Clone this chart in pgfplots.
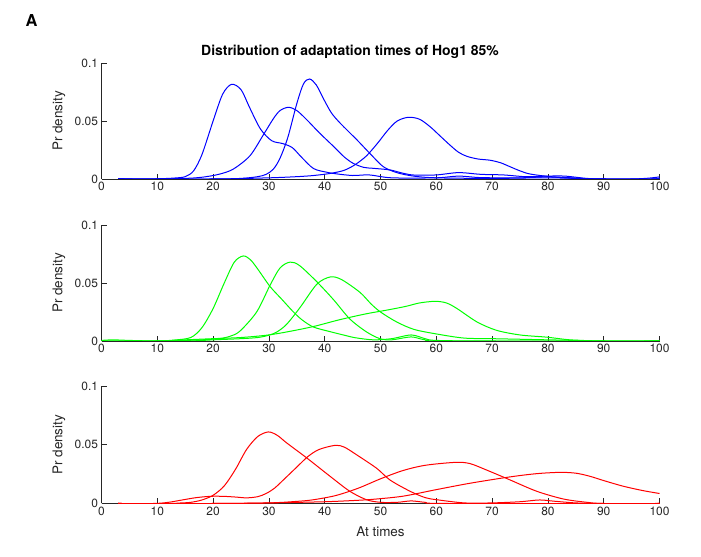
\documentclass[border=0pt]{standalone}
\usepackage{pgfplots}
\pgfplotsset{compat=1.18}
\usepackage{fontspec}
\setmainfont{TeX Gyre Heros}
\definecolor{axgray}{gray}{0.15}
\pgfplotsset{
  myax/.style={
    scale only axis, width=558bp, height=116bp,
    xmin=0, xmax=100, ymin=0, ymax=0.1,
    axis lines=left, axis line style={-, color=axgray, line width=0.6bp},
    tick align=inside, major tick length=5bp,
    tick style={color=axgray, line width=0.6bp},
    xtick={0,10,...,100},
    ytick={0,0.05,0.1}, yticklabels={0,0.05,0.1},
    /pgf/number format/assume math mode=true,
    ticklabel style={font=\fontsize{12}{14}\selectfont, text=axgray},
    ylabel={Pr density},
    ylabel style={at={(axis description cs:-0.0762,0.5)}, anchor=center, font=\fontsize{13.5}{15}\selectfont, text=axgray},
    every axis plot/.append style={line width=1bp, smooth, tension=0.5},
  }
}
\begin{document}
\begin{tikzpicture}[x=1bp,y=1bp]
\path[use as bounding box] (0,0) rectangle (701,557);
% ---------- top (blue)
\begin{axis}[myax, at={(101.5bp,378bp)}, anchor=south west]
\addplot[blue] coordinates {(3,0)(10,0.0002)(13,0.0008)(15,0.002)(16.5,0.007)(18,0.021)(20,0.050)(21.7,0.073)(23.3,0.0816)(25,0.077)(26.6,0.061)(28.5,0.043)(30.5,0.033)(32.5,0.0305)(34.2,0.027)(35.8,0.019)(38,0.009)(40.4,0.0058)(42,0.0045)(45,0.003)(48,0.0035)(52,0.001)(60,0.001)(64,0.0025)(68,0.0012)(75,0.001)(80,0.0018)(85,0.0005)(90,0)(100,0)};
\addplot[blue] coordinates {(3,0)(10,0)(15,0.0005)(18,0.0015)(21,0.004)(23.6,0.0085)(26.6,0.020)(29,0.038)(30.8,0.052)(32,0.059)(33.5,0.0618)(35,0.059)(36.8,0.051)(39,0.040)(41.6,0.028)(43.5,0.019)(45.1,0.0135)(47,0.010)(48.7,0.0092)(51.7,0.0078)(54,0.005)(56,0.0034)(60,0.0035)(64,0.0055)(68,0.004)(72,0.0035)(76,0.002)(80,0.0025)(83,0.0025)(87,0.0005)(90,0)(100,0)};
\addplot[blue] coordinates {(3,0)(20,0)(25,0.0005)(28,0.002)(29.5,0.004)(30.8,0.0085)(32,0.018)(33.4,0.036)(35,0.065)(36.2,0.082)(37.3,0.0862)(38.5,0.081)(39.8,0.069)(41.2,0.057)(42.8,0.048)(45.8,0.0336)(47.5,0.025)(48.5,0.020)(50.5,0.0106)(52.9,0.0055)(55.9,0.0025)(60,0.001)(70,0.0005)(80,0.001)(90,0)(100,0)};
\addplot[blue] coordinates {(3,0)(20,0)(30,0.001)(35,0.002)(38,0.003)(41,0.0048)(43.5,0.0075)(45.5,0.0125)(47.5,0.020)(49.5,0.031)(51.3,0.042)(53,0.050)(55,0.0532)(57,0.0515)(58.9,0.045)(60.7,0.037)(62.5,0.029)(64,0.023)(65.5,0.0195)(67.5,0.0172)(69.6,0.0162)(71.5,0.0140)(73.2,0.0106)(75,0.007)(76.8,0.0043)(80.5,0.002)(85,0.0008)(88,0)(95,0)(98,0.0007)(100,0.0018)};
\end{axis}
% ---------- middle (green)
\begin{axis}[myax, at={(101.5bp,216bp)}, anchor=south west]
\addplot[green] coordinates {(0,0.0005)(2,0.001)(5,0.0005)(10,0)(13,0.0008)(16,0.003)(18,0.0115)(20,0.028)(22,0.050)(23.8,0.068)(25.4,0.0733)(26.7,0.070)(28,0.062)(30.2,0.047)(32.3,0.036)(34.4,0.025)(36,0.018)(38,0.012)(41,0.0080)(43.5,0.005)(45.5,0.0028)(48.7,0.001)(52,0.002)(55.5,0.0052)(58,0.002)(60,0.0005)(70,0)(100,0)};
\addplot[green] coordinates {(0,0)(10,0)(15,0.0005)(18,0.001)(21,0.002)(23,0.004)(24.8,0.0085)(27.8,0.025)(30.2,0.048)(32,0.063)(33.8,0.068)(35.5,0.065)(38.6,0.051)(41.6,0.0355)(44.5,0.019)(47.5,0.0078)(49.9,0.002)(52,0.001)(55.5,0.0035)(58,0.001)(62,0)(100,0)};
\addplot[green] coordinates {(0,0)(15,0)(20,0.001)(25,0.002)(28,0.003)(30,0.005)(31.5,0.008)(33.2,0.0145)(35.6,0.029)(38.6,0.049)(41,0.0552)(43,0.053)(46.3,0.042)(48.3,0.032)(50,0.025)(52.9,0.0164)(56,0.010)(60.1,0.0060)(65,0.0025)(70,0.002)(75,0.0015)(80,0.001)(85,0.0005)(90,0)(100,0)};
\addplot[green] coordinates {(0,0)(10,0)(15,0.001)(20,0.002)(25,0.003)(29.6,0.005)(33.2,0.0078)(38,0.0125)(42.8,0.0185)(47.5,0.0235)(51,0.0265)(54.5,0.0298)(57,0.0328)(59.8,0.0342)(61.8,0.0328)(63.7,0.028)(67.3,0.0164)(70.8,0.0092)(75,0.0052)(79.8,0.0033)(84,0.001)(90,0)(100,0)};
\end{axis}
% ---------- bottom (red)
\begin{axis}[myax, at={(101.5bp,53.5bp)}, anchor=south west,
  height=117.5bp,
  xlabel={At times},
  xlabel style={at={(axis description cs:0.5,-0.243)}, anchor=center, font=\fontsize{13.5}{15}\selectfont, text=axgray}]
\addplot[red] coordinates {(3,0)(12,0)(14,0.0004)(16,0.001)(18,0.003)(20,0.007)(22,0.015)(24,0.029)(26,0.046)(28,0.057)(29.9,0.0609)(31.5,0.058)(33.2,0.0515)(36.8,0.0387)(41,0.023)(44.5,0.0104)(47.5,0.0032)(50,0.001)(53,0.001)(55.5,0.0022)(58,0.001)(62,0)(100,0)};
\addplot[red] coordinates {(3,0)(9.3,0)(12,0.001)(14.7,0.0032)(17,0.005)(19.5,0.0061)(21.8,0.0061)(24,0.0055)(26,0.0048)(28,0.0058)(29.5,0.0085)(31,0.013)(32.8,0.021)(35,0.031)(37,0.040)(39,0.046)(41.9,0.0495)(43.5,0.048)(45.7,0.0415)(49.3,0.030)(51.7,0.020)(55.3,0.0104)(58,0.005)(60.1,0.0032)(65,0.0005)(70,0.0005)(75,0.0015)(78.5,0.003)(81,0.002)(85,0.0005)(90,0)(100,0)};
\addplot[red] coordinates {(3,0)(20,0)(30,0.0005)(35,0.0018)(38,0.0032)(42,0.0068)(46,0.013)(50,0.021)(54,0.028)(58,0.0325)(63.4,0.035)(66,0.034)(69,0.0285)(73,0.0205)(78,0.0104)(82.8,0.0038)(87,0.001)(90,0)(100,0)};
\addplot[red] coordinates {(3,0)(20,0)(30,0.0005)(40,0.0015)(45,0.0025)(48.5,0.0035)(54,0.0062)(60,0.0118)(66,0.0172)(73,0.0225)(78,0.0254)(82.2,0.0265)(85,0.0258)(87.5,0.0232)(90,0.0195)(93.5,0.0147)(97,0.011)(100,0.0085)};
\end{axis}
\node[font=\bfseries\fontsize{14}{16}\selectfont, anchor=center] at (350,505) {Distribution of adaptation times of Hog1 85\%};
\node[font=\bfseries\fontsize{16.5}{18}\selectfont, anchor=center] at (31.5,536.5) {A};
\end{tikzpicture}
\end{document}
